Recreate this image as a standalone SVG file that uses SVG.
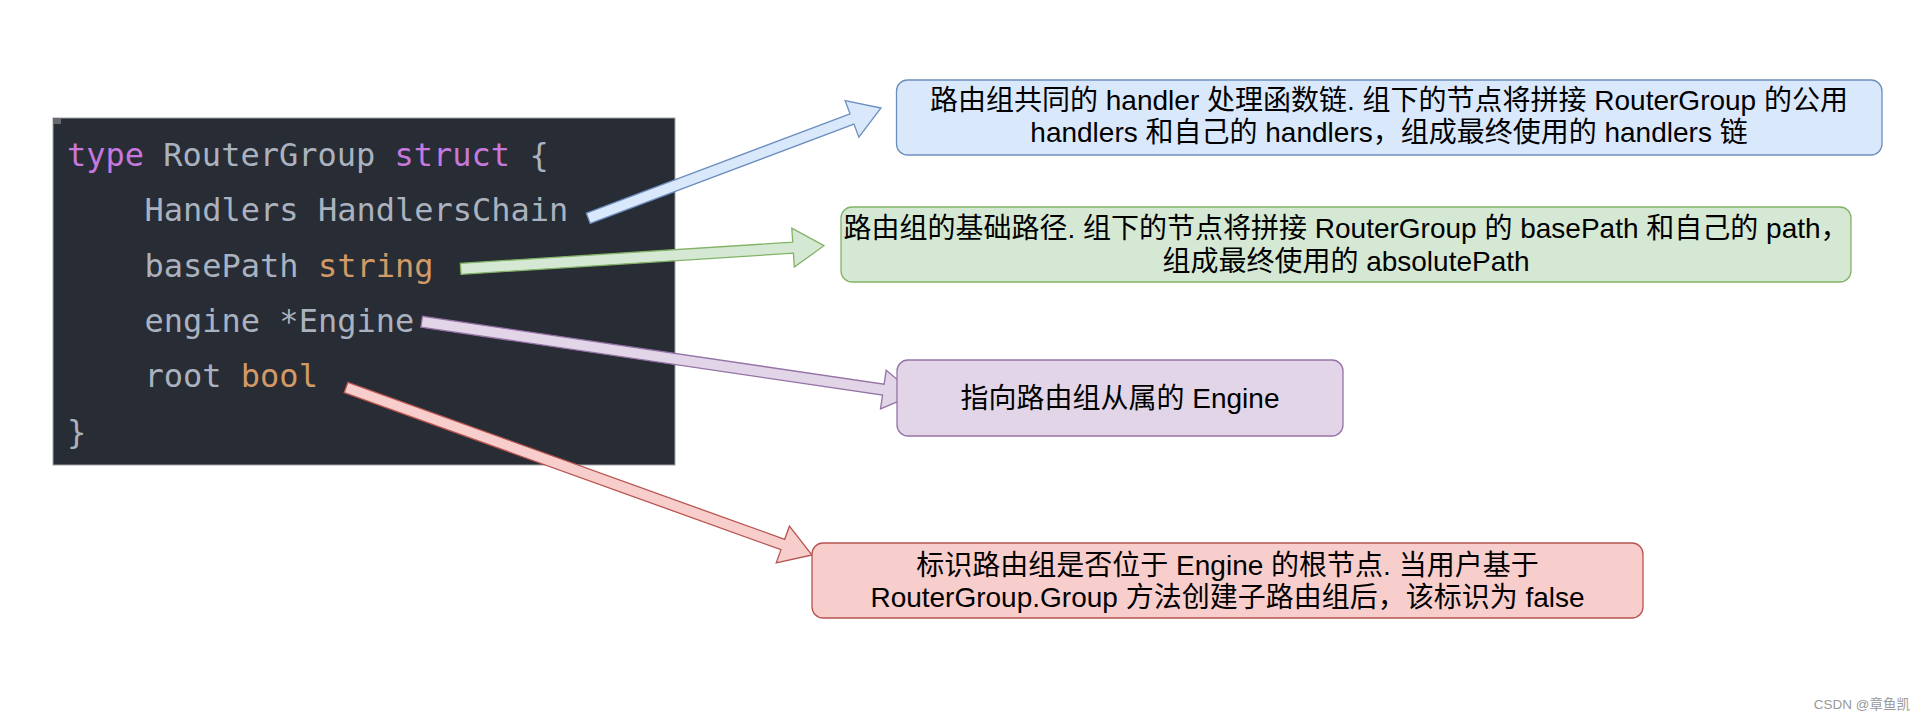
<svg xmlns="http://www.w3.org/2000/svg" width="1928" height="720" viewBox="0 0 1928 720">
<style>
.code{font-family:"DejaVu Sans Mono","Liberation Mono",monospace;font-size:32px;fill:#abb2bf}
.kw{fill:#c678dd}
.ty{fill:#d19a66}
.lbl{font-family:"Liberation Sans","Noto Sans CJK SC",sans-serif;font-size:28px;fill:#000;text-anchor:middle}
.arr{stroke-width:1.3;stroke-linejoin:miter}
.box{stroke-width:1.3}
.blue{fill:#dae8fc;stroke:#6c8ebf}
.green{fill:#d5e8d4;stroke:#82b366}
.purple{fill:#e1d5e7;stroke:#9673a6}
.red{fill:#f8cecc;stroke:#b85450}
.wm{font-family:"Liberation Sans","Noto Sans CJK SC",sans-serif;font-size:13.5px;fill:#999;text-anchor:end}
</style>
<rect x="0" y="0" width="1928" height="720" fill="#ffffff"/>
<g id="code">
<rect x="53" y="118" width="622" height="347" fill="#282c34" stroke="#a0a3a8" stroke-width="1"/>
<rect x="53" y="118" width="8" height="6" fill="#676a70"/>
<text class="code" x="67" y="166"><tspan class="kw">type</tspan> RouterGroup <tspan class="kw">struct</tspan> {</text>
<text class="code" x="144.5" y="221.3">Handlers HandlersChain</text>
<text class="code" x="144.5" y="276.6">basePath <tspan class="ty">string</tspan></text>
<text class="code" x="144.5" y="332">engine *Engine</text>
<text class="code" x="144.5" y="387.3">root <tspan class="ty">bool</tspan></text>
<text class="code" x="67" y="442.5">}</text>
</g>
<g id="connectors">
<polygon class="arr blue" points="590.24,223.45 853.94,124.08 858.88,137.18 881,108 845.12,100.68 850.06,113.78 586.36,213.15"/>
<polygon class="arr green" points="461.05,274.29 793.41,253.16 794.30,267.13 824,245.7 791.82,228.21 792.71,242.18 460.35,263.31"/>
<polygon class="arr purple" points="420.90,327.14 882.54,395.08 880.50,408.93 915,394.3 886.18,370.35 884.14,384.20 422.50,316.26"/>
<polygon class="arr red" points="344.14,392.68 780.97,549.70 776.24,562.87 812,555 789.43,526.17 784.69,539.34 347.86,382.32"/>
</g>
<g id="box-handlers">
<rect class="box blue" x="896.5" y="80" width="985.5" height="75" rx="11" ry="11"/>
<text class="lbl" x="1389" y="110">路由组共同的 handler 处理函数链. 组下的节点将拼接 RouterGroup 的公用</text>
<text class="lbl" x="1389" y="142">handlers 和自己的 handlers，组成最终使用的 handlers 链</text>
</g>
<g id="box-basepath">
<rect class="box green" x="841" y="207" width="1010" height="75" rx="11" ry="11"/>
<text class="lbl" x="1346" y="238">路由组的基础路径. 组下的节点将拼接 RouterGroup 的 basePath 和自己的 path，</text>
<text class="lbl" x="1346" y="270.5">组成最终使用的 absolutePath</text>
</g>
<g id="box-engine">
<rect class="box purple" x="897" y="360" width="446" height="76" rx="11" ry="11"/>
<text class="lbl" x="1120" y="408">指向路由组从属的 Engine</text>
</g>
<g id="box-root">
<rect class="box red" x="812" y="543" width="831" height="75" rx="11" ry="11"/>
<text class="lbl" x="1227.5" y="575">标识路由组是否位于 Engine 的根节点. 当用户基于</text>
<text class="lbl" x="1227.5" y="607">RouterGroup.Group 方法创建子路由组后，该标识为 false</text>
</g>
<text class="wm" x="1910" y="709">CSDN @章鱼凯</text>
</svg>
